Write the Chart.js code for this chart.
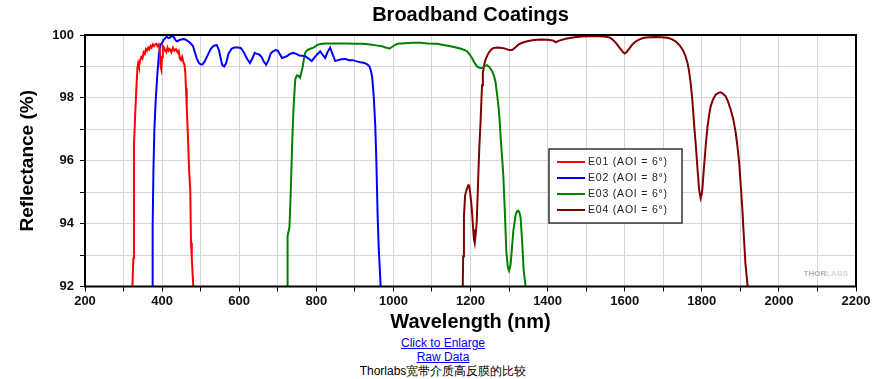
<!DOCTYPE html>
<html>
<head>
<meta charset="utf-8">
<title>Broadband Coatings</title>
<script src="https://cdn.jsdelivr.net/npm/chart.js@4.4.1/dist/chart.umd.min.js"></script>
<style>
  body { margin: 0; background: #fff; }
  #wrap { width: 874px; height: 336px; }
  .links {
    width: 862px;
    margin-left: 12px;
    text-align: center;
    font-family: "Liberation Sans", Arial, sans-serif;
    font-size: 12px;
    line-height: 14px;
  }
  .links a { color: #0000ee; }
</style>
</head>
<body>
<div id="wrap"><canvas id="coatChart" width="874" height="336"></canvas></div>
<div class="links">
  <div><a href="#">Click to Enlarge</a></div>
  <div><a href="#">Raw Data</a></div>
  <div>Thorlabs宽带介质高反膜的比较</div>
</div>
<script>
// values (wavelength nm / reflectance %)
const e01Wl = [323, 325.5, 327, 331, 334, 336, 338, 340, 343, 346, 349, 352, 355, 358, 361, 364, 367, 370, 373, 376, 379, 382, 385, 388, 391, 394, 396, 398, 400, 402, 405, 408, 411, 414, 417, 420, 424, 428, 432, 436, 440, 443, 446, 449, 452, 455, 458, 460, 462, 464, 466, 468, 470, 473, 475, 477, 481];
const e01R = [92, 92.9, 96.5, 97.7, 98.5, 98.95, 99.1, 99.0, 99.2, 99.3, 99.25, 99.45, 99.4, 99.55, 99.5, 99.6, 99.55, 99.65, 99.6, 99.7, 99.65, 99.7, 99.72, 99.65, 99.7, 99.5, 99.0, 98.9, 99.3, 99.65, 99.6, 99.5, 99.45, 99.6, 99.5, 99.55, 99.45, 99.6, 99.5, 99.55, 99.45, 99.5, 99.25, 99.2, 99.3, 99.15, 99.05, 98.85, 98.3, 97.7, 97.1, 96.45, 95.7, 95.1, 93.4, 92.9, 92];

const e02Wl = [375, 375.5, 377.5, 380, 383.5, 388, 392, 396, 400, 404, 408, 412, 416, 420, 424, 428, 432, 436, 440, 445, 450, 455, 460, 465, 470, 475, 480, 485, 490, 495, 500, 505, 510, 518, 526, 534, 542, 548, 552, 556, 561, 566, 572, 580, 588, 596, 604, 612, 620, 628, 634, 640, 646, 652, 658, 664, 670, 676, 682, 688, 694, 700, 706, 711, 718, 724, 732, 740, 748, 756, 764, 772, 780, 788, 795, 802, 810, 816, 823, 829, 836, 842, 849, 856, 865, 875, 885, 895, 905, 915, 925, 933, 938, 942, 945, 949, 953, 956, 959, 962, 967];
const e02R = [92, 93.9, 95.7, 97.0, 97.95, 98.8, 99.43, 99.7, 99.75, 99.85, 99.9, 99.95, 99.9, 99.92, 99.95, 99.97, 99.9, 99.82, 99.8, 99.84, 99.86, 99.87, 99.86, 99.82, 99.78, 99.72, 99.65, 99.45, 99.25, 99.12, 99.06, 99.07, 99.15, 99.35, 99.55, 99.66, 99.68, 99.5, 99.25, 99.05, 99.0, 99.1, 99.4, 99.56, 99.6, 99.6, 99.59, 99.45, 99.25, 99.11, 99.25, 99.43, 99.4, 99.38, 99.3, 99.15, 99.05, 99.2, 99.42, 99.48, 99.52, 99.5, 99.38, 99.27, 99.3, 99.33, 99.4, 99.43, 99.4, 99.35, 99.34, 99.32, 99.25, 99.17, 99.28, 99.38, 99.48, 99.38, 99.27, 99.45, 99.6, 99.4, 99.17, 99.2, 99.23, 99.24, 99.2, 99.2, 99.16, 99.13, 99.11, 99.06, 99.0, 98.85, 98.65, 98.05, 97.1, 95.9, 94.3, 93.2, 92];

const e03Wl = [724, 725.5, 730.5, 734, 737.5, 741, 745.5, 750, 754, 758, 761, 764, 767, 771, 775, 780, 786, 793, 800, 806, 815, 825, 840, 860, 880, 900, 920, 940, 955, 970, 980, 990, 1000, 1010, 1030, 1050, 1070, 1090, 1113, 1130, 1148, 1160, 1173, 1185, 1191, 1198, 1204, 1210, 1217, 1223, 1229, 1236, 1243, 1249, 1256, 1261, 1265, 1269, 1273, 1276, 1279, 1282, 1285, 1289, 1293, 1297, 1300, 1304, 1308, 1311, 1317, 1321, 1324, 1327, 1330, 1334, 1338, 1343];
const e03R = [92, 93.6, 93.9, 95.1, 96.6, 97.7, 98.6, 98.72, 98.7, 98.64, 98.8, 98.95, 99.17, 99.43, 99.5, 99.54, 99.57, 99.6, 99.66, 99.7, 99.72, 99.73, 99.73, 99.73, 99.73, 99.72, 99.72, 99.7, 99.67, 99.64, 99.6, 99.57, 99.65, 99.72, 99.74, 99.75, 99.75, 99.73, 99.72, 99.68, 99.64, 99.61, 99.57, 99.52, 99.48, 99.38, 99.27, 99.12, 99.0, 98.96, 98.95, 99.0, 99.04, 98.98, 98.85, 98.7, 98.5, 98.1, 97.68, 97.2, 96.6, 96.1, 95.55, 94.4, 93.1, 92.6, 92.5, 92.7, 93.3, 93.75, 94.28, 94.4, 94.41, 94.35, 94.18, 93.43, 92.5, 92];

const e04Wl = [1180, 1181, 1183, 1186, 1190, 1194, 1196, 1199, 1202, 1205, 1207, 1209, 1211, 1213, 1216, 1219, 1221, 1223, 1226, 1228, 1230, 1232, 1236, 1239, 1244, 1248, 1254, 1260, 1270, 1282, 1292, 1300, 1308, 1316, 1325, 1336, 1347, 1365, 1382, 1400, 1416, 1421, 1430, 1447, 1470, 1490, 1507, 1530, 1545, 1559, 1568, 1577, 1584, 1590, 1596, 1600, 1605, 1611, 1620, 1629, 1640, 1650, 1665, 1681, 1695, 1711, 1722, 1732, 1742, 1750, 1757, 1763, 1767, 1771, 1775, 1778, 1781, 1784, 1789, 1793, 1797, 1800, 1802, 1805, 1808, 1811, 1815, 1819, 1823, 1829, 1836, 1843, 1849, 1855, 1862, 1868, 1875, 1882, 1888, 1893, 1897, 1900, 1903, 1906, 1908, 1911, 1913, 1919];
const e04R = [92, 92.96, 94.23, 94.9, 95.08, 95.22, 95.24, 95.0, 94.66, 94.2, 93.81, 93.5, 93.38, 93.6, 94.02, 95.08, 95.8, 96.46, 97.2, 97.84, 98.4, 98.8, 99.08, 99.22, 99.36, 99.45, 99.54, 99.59, 99.6, 99.59, 99.56, 99.52, 99.52, 99.6, 99.7, 99.76, 99.8, 99.84, 99.86, 99.85, 99.82, 99.77, 99.82, 99.88, 99.93, 99.95, 99.96, 99.96, 99.95, 99.93, 99.86, 99.75, 99.64, 99.54, 99.45, 99.41, 99.46, 99.55, 99.7, 99.8, 99.87, 99.91, 99.93, 99.94, 99.93, 99.91, 99.87, 99.8, 99.68, 99.54, 99.35, 99.11, 98.85, 98.48, 98.0, 97.52, 97.0, 96.57, 95.72, 95.08, 94.81, 94.95, 95.18, 95.7, 96.14, 96.6, 97.1, 97.45, 97.73, 97.95, 98.1, 98.16, 98.18, 98.13, 98.05, 97.88, 97.63, 97.3, 96.89, 96.4, 95.93, 95.4, 94.87, 94.3, 93.81, 93.2, 92.75, 92];

const seriesNames = ['E01 (AOI = 6°)', 'E02 (AOI = 8°)', 'E03 (AOI = 6°)', 'E04 (AOI = 6°)'];
const seriesColors = ['#ff0000', '#0000ff', '#008000', '#800000'];

const toPoints = (xs, ys) => xs.map((x, i) => ({ x: x, y: ys[i] }));

const FONT = '"Liberation Sans", Arial, sans-serif';

// black frame round the plot
const framePlugin = {
  id: 'frame',
  afterDraw: (chart) => {
    const a = chart.chartArea;
    const ctx = chart.ctx;
    ctx.save();
    ctx.strokeStyle = '#000';
    ctx.lineWidth = 2;
    ctx.strokeRect(a.left, a.top, a.right - a.left, a.bottom - a.top);
    ctx.restore();
  }
};

// boxed legend inside the plot + watermark
const boxLegend = {
  id: 'boxLegend',
  afterDraw: (chart) => {
    const a = chart.chartArea;
    const ctx = chart.ctx;
    const x0 = a.left + 464, y0 = a.top + 114;
    ctx.save();
    ctx.fillStyle = '#fff';
    ctx.fillRect(x0, y0, 133, 74);
    ctx.strokeStyle = '#333';
    ctx.lineWidth = 1.5;
    ctx.strokeRect(x0, y0, 133, 74);
    ctx.font = '10.5px ' + FONT;
    ctx.textBaseline = 'middle';
    ctx.letterSpacing = '0.8px';
    chart.data.datasets.forEach((ds, i) => {
      const y = y0 + 13 + i * 16;
      ctx.strokeStyle = ds.borderColor;
      ctx.lineWidth = 2;
      ctx.beginPath();
      ctx.moveTo(x0 + 8, y);
      ctx.lineTo(x0 + 36, y);
      ctx.stroke();
      ctx.fillStyle = '#222';
      ctx.fillText(ds.label, x0 + 39, y);
    });
    // watermark
    ctx.letterSpacing = '0px';
    ctx.font = 'bold 8px ' + FONT;
    ctx.textAlign = 'right';
    ctx.fillStyle = '#d8d8d8';
    ctx.fillText('LABS', a.right - 8, a.bottom - 13);
    const w = ctx.measureText('LABS').width;
    ctx.fillStyle = '#b0b0b0';
    ctx.fillText('THOR', a.right - 8 - w, a.bottom - 13);
    ctx.restore();
  }
};

const data = {
  datasets: [
    { label: seriesNames[0], data: toPoints(e01Wl, e01R), borderColor: seriesColors[0] },
    { label: seriesNames[1], data: toPoints(e02Wl, e02R), borderColor: seriesColors[1] },
    { label: seriesNames[2], data: toPoints(e03Wl, e03R), borderColor: seriesColors[2] },
    { label: seriesNames[3], data: toPoints(e04Wl, e04R), borderColor: seriesColors[3] }
  ]
};
data.datasets.forEach(ds => {
  ds.borderWidth = 2;
  ds.pointRadius = 0;
  ds.tension = 0;
  ds.fill = false;
});

const config = {
  type: 'line',
  data: data,
  options: {
    responsive: false,
    animation: false,
    layout: { padding: { left: 0, right: 18, top: 0, bottom: 0 } },
    plugins: {
      legend: { display: false },
      tooltip: { enabled: false },
      title: {
        display: true,
        text: 'Broadband Coatings',
        fullSize: false,
        color: '#000',
        font: { family: FONT, size: 20, weight: 'bold' },
        padding: { top: 3, bottom: 8 }
      }
    },
    scales: {
      x: {
        type: 'linear',
        min: 200,
        max: 2200,
        afterFit: (s) => { s.height = 49.5; },
        ticks: {
          stepSize: 100,
          autoSkip: false,
          maxRotation: 0,
          padding: 2,
          color: '#111',
          font: { family: FONT, size: 13, weight: 'bold' },
          callback: (v) => (v % 200 === 0 ? v : '')
        },
        grid: { color: '#d6d6d6', lineWidth: 1, tickColor: '#000', tickLength: 5 },
        border: { display: false },
        title: {
          display: true,
          text: 'Wavelength (nm)',
          color: '#000',
          font: { family: FONT, size: 20, weight: 'bold' },
          padding: { top: 0, bottom: 2 }
        }
      },
      y: {
        min: 92,
        max: 100,
        afterFit: (s) => { s.width = 85; },
        ticks: {
          stepSize: 1,
          padding: 6,
          color: '#111',
          font: { family: FONT, size: 13, weight: 'bold' },
          callback: (v) => (v % 2 === 0 ? v : '')
        },
        grid: { color: '#d6d6d6', lineWidth: 1, tickColor: '#000', tickLength: 5 },
        border: { display: false },
        title: {
          display: true,
          text: 'Reflectance (%)',
          color: '#000',
          font: { family: FONT, size: 19, weight: 'bold' },
          padding: { top: 16, bottom: 0 }
        }
      }
    }
  },
  plugins: [framePlugin, boxLegend]
};

const coatChart = new Chart(document.getElementById('coatChart'), config);
</script>
</body>
</html>
